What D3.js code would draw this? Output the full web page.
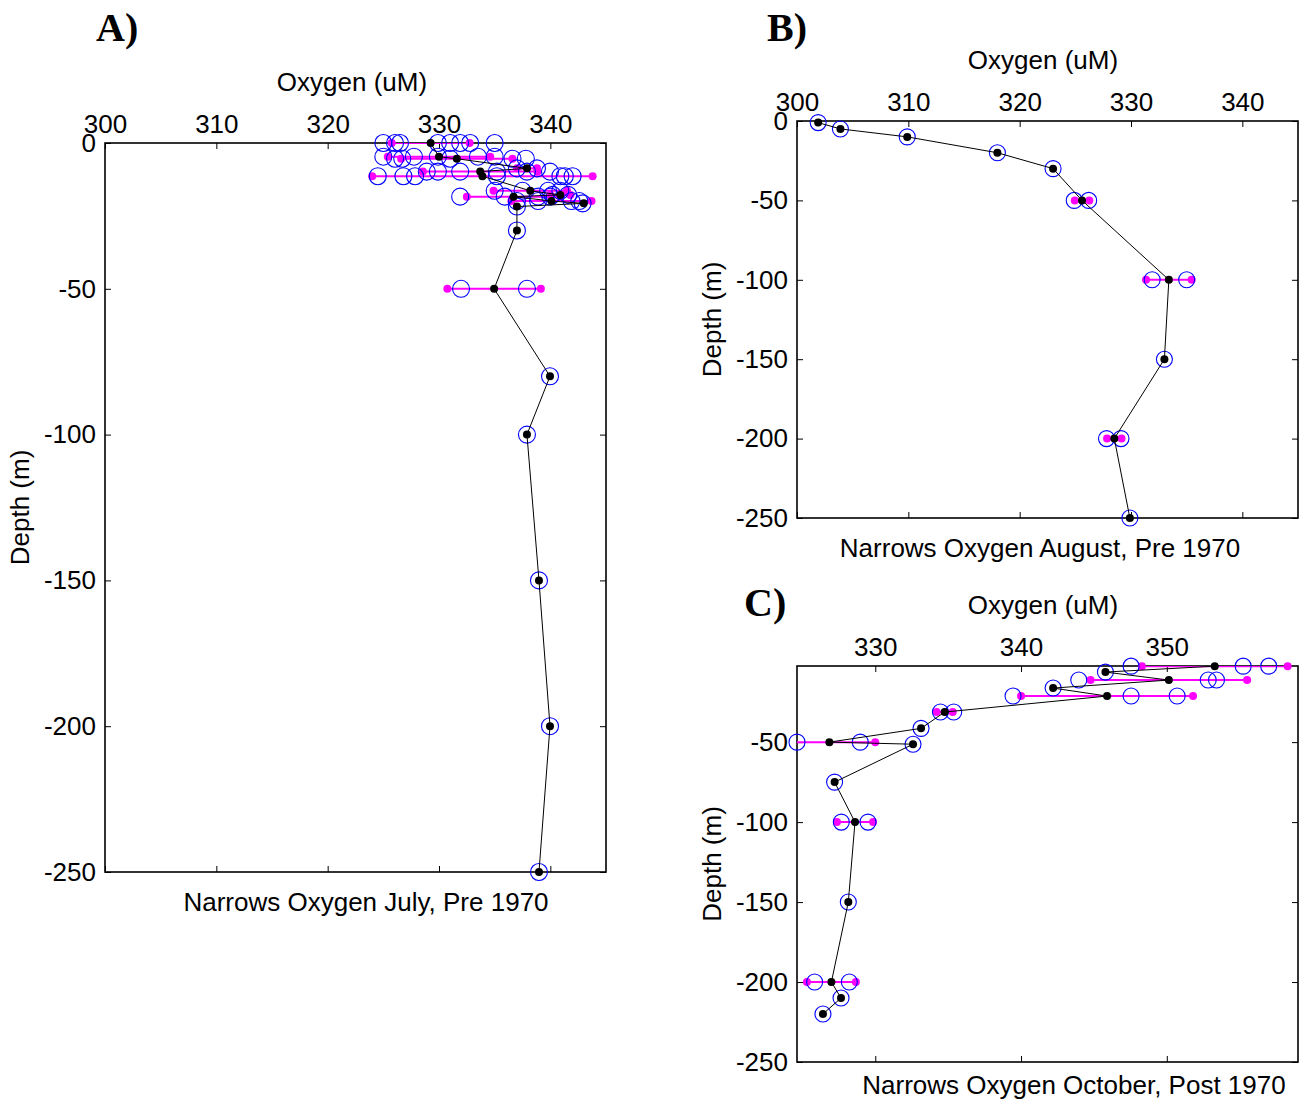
<!DOCTYPE html>
<html>
<head>
<meta charset="utf-8">
<script src="https://cdn.jsdelivr.net/npm/d3@7"></script>
<style>
  body { margin: 0; background: #fff; }
  svg { display: block; font-family: "Liberation Sans", Arial, sans-serif; }
</style>
</head>
<body>
<svg id="chart" width="1303" height="1103"></svg>
<script>
// ---------------- Data ----------------
// Panel A: July, Pre 1970
const depthsA = [0, -4.7, -5.4, -8.7, -9.8, -11.4, -16.4, -17.8, -18.4, -19.9, -20.7, -21.8, -30, -50, -80, -100, -150, -200, -250];
const meansA  = [329.25, 330.0, 331.6, 337.9, 333.7, 333.9, 338.2, 340.9, 336.7, 340.1, 343.0, 337.0, 337.0, 334.95, 339.97, 337.9, 338.98, 339.97, 338.98];
const stdsA   = [3.5, 4.6, 5.0, 0.9, 5.15, 9.9, 3.3, 0.9, 4.2, 3.6, 0, 0, 0, 4.2, 0, 0, 0, 0, 0];
const obsA = [
  [325.0, 326.05, 326.5, 329.9, 331.0, 331.9, 332.8, 335.0],
  [325.0, 327.75, 329.9, 333.5, 335.0],
  [326.05, 326.7, 331.0, 336.6, 337.8],
  [337.0, 338.8],
  [328.9, 329.9, 331.9, 335.2, 337.9, 339.97],
  [324.5, 326.8, 327.85, 335.2, 340.9, 341.3, 342.0],
  [335.0, 337.5, 339.8, 340.9],
  [340.2, 341.6],
  [331.9, 335.9, 338.9, 340.0],
  [337.0, 338.9, 341.9, 342.6],
  [342.9],
  [337.0],
  [337.0],
  [331.98, 337.9],
  [339.97],
  [337.9],
  [338.98],
  [339.97],
  [338.98]
];

// Panel B: August, Pre 1970
const depthsB = [-1, -5, -10, -20, -30, -50, -100, -150, -200, -250];
const meansB  = [301.9, 303.9, 309.9, 318.0, 323.0, 325.6, 333.4, 333.0, 328.5, 329.9];
const stdsB   = [0, 0, 0, 0, 0, 0.65, 2.05, 0, 0.65, 0];
const obsB = [[301.9], [303.9], [309.9], [318.0], [323.0], [324.9, 326.2], [331.9, 335.0], [333.0], [327.8, 329.1], [329.9]];

// Panel C: October, Post 1970
const depthsC = [-2.5, -6.2, -11.2, -16.2, -21.2, -31.2, -41.4, -50, -51.3, -75, -100, -150, -200, -210, -220];
const meansC  = [353.29, 345.79, 350.14, 342.2, 345.9, 334.76, 333.14, 326.85, 332.59, 327.21, 328.61, 328.15, 326.99, 327.65, 326.41];
const stdsC   = [5.0, 0, 5.37, 0, 5.9, 0.55, 0, 3.15, 0, 0, 1.24, 0, 1.68, 0, 0];
const obsC = [
  [347.55, 355.24, 356.99], [345.79], [343.96, 352.84, 353.41], [342.2],
  [339.45, 347.55, 350.71], [334.47, 335.38], [333.14], [324.63, 328.97],
  [332.59], [327.21], [327.67, 329.5], [328.15], [325.84, 328.22], [327.65], [326.41]
];

const xTicksAB = [300, 310, 320, 330, 340];
const xTicksC  = [330, 340, 350];
const yTicksAB = [0, -50, -100, -150, -200, -250];
const yTicksC  = [-50, -100, -150, -200, -250];

// ---------------- Drawing ----------------
const svg = d3.select("#chart");
const FS = 26;

function drawPanel(cfg) {
  const x = d3.scaleLinear().domain(cfg.xDomain).range([cfg.left, cfg.left + cfg.width]);
  const y = d3.scaleLinear().domain(cfg.yDomain).range([cfg.top + cfg.height, cfg.top]);
  const g = svg.append("g");
  const clipId = "clip" + cfg.id;
  svg.append("clipPath").attr("id", clipId).append("rect")
    .attr("x", cfg.left).attr("y", cfg.top).attr("width", cfg.width).attr("height", cfg.height);

  const fmt = d => String(d);
  const styleAxis = (sel, showText) => {
    sel.select(".domain").remove();
    sel.selectAll(".tick line").attr("stroke", "#000").attr("stroke-width", 1);
    sel.selectAll(".tick text").attr("fill", "#000").style("font-size", FS + "px")
      .style("font-family", '"Liberation Sans", Arial, sans-serif');
    if (!showText) sel.selectAll(".tick text").remove();
  };
  g.append("g").attr("transform", `translate(0,${cfg.top})`)
    .call(d3.axisTop(x).tickValues(cfg.xTicks).tickSizeInner(-6).tickSizeOuter(0).tickPadding(10).tickFormat(fmt))
    .call(s => styleAxis(s, true));
  g.append("g").attr("transform", `translate(0,${cfg.top + cfg.height})`)
    .call(d3.axisBottom(x).tickValues(cfg.xTicks).tickSizeInner(-6).tickSizeOuter(0).tickFormat(""))
    .call(s => styleAxis(s, false));
  g.append("g").attr("transform", `translate(${cfg.left},0)`)
    .call(d3.axisLeft(y).tickValues(cfg.yTicks).tickSizeInner(-6).tickSizeOuter(0).tickPadding(9).tickFormat(fmt))
    .call(s => styleAxis(s, true));
  g.append("g").attr("transform", `translate(${cfg.left + cfg.width},0)`)
    .call(d3.axisRight(y).tickValues(cfg.yTicks).tickSizeInner(-6).tickSizeOuter(0).tickFormat(""))
    .call(s => styleAxis(s, false));

  g.append("rect").attr("x", cfg.left).attr("y", cfg.top).attr("width", cfg.width).attr("height", cfg.height)
    .attr("fill", "none").attr("stroke", "#000").attr("stroke-width", 1.6);

  const n = cfg.depths.length;
  const idx = d3.range(n);
  const inX = v => v >= cfg.xDomain[0] - 1e-9 && v <= cfg.xDomain[1] + 1e-9;

  // std bars (magenta)
  const sdIdx = idx.filter(i => cfg.stds[i] > 0);
  g.append("g").attr("clip-path", `url(#${clipId})`).selectAll("line").data(sdIdx).join("line")
    .attr("x1", i => x(cfg.means[i] - cfg.stds[i])).attr("x2", i => x(cfg.means[i] + cfg.stds[i]))
    .attr("y1", i => y(cfg.depths[i])).attr("y2", i => y(cfg.depths[i]))
    .attr("stroke", "#ff00ff").attr("stroke-width", 2);
  const ends = [];
  sdIdx.forEach(i => {
    ends.push({v: cfg.means[i] - cfg.stds[i], d: cfg.depths[i]});
    ends.push({v: cfg.means[i] + cfg.stds[i], d: cfg.depths[i]});
  });
  g.append("g").selectAll("circle").data(ends.filter(e => inX(e.v))).join("circle")
    .attr("cx", e => x(e.v)).attr("cy", e => y(e.d)).attr("r", 4)
    .attr("fill", "#ff00ff");

  // observations (blue open circles)
  const pts = [];
  idx.forEach(i => cfg.obs[i].forEach(v => pts.push({v, d: cfg.depths[i]})));
  g.append("g").selectAll("circle").data(pts).join("circle")
    .attr("cx", p => x(p.v)).attr("cy", p => y(p.d)).attr("r", cfg.r)
    .attr("fill", "none").attr("stroke", "#0000ff").attr("stroke-width", 1.1);

  // mean profile
  const line = d3.line().x(i => x(cfg.means[i])).y(i => y(cfg.depths[i]));
  g.append("path").attr("clip-path", `url(#${clipId})`).datum(idx).attr("d", line)
    .attr("fill", "none").attr("stroke", "#000").attr("stroke-width", 1);
  g.append("g").selectAll("circle").data(idx).join("circle")
    .attr("cx", i => x(cfg.means[i])).attr("cy", i => y(cfg.depths[i])).attr("r", 4)
    .attr("fill", "#000");

  // labels
  g.append("text").attr("x", cfg.xlabelX).attr("y", cfg.top - 52).attr("text-anchor", "middle")
    .style("font-size", FS + "px").text("Oxygen (uM)");
  g.append("text").attr("transform", `translate(${cfg.left - 76},${cfg.top + cfg.height / 2}) rotate(-90)`)
    .attr("text-anchor", "middle").style("font-size", FS + "px").text("Depth (m)");
  g.append("text").attr("x", cfg.titleX).attr("y", cfg.titleY).attr("text-anchor", "middle")
    .style("font-size", FS + "px").text(cfg.title);
  g.append("text").attr("x", cfg.labelX).attr("y", cfg.labelY)
    .style("font-family", '"Liberation Serif", "Times New Roman", serif')
    .style("font-weight", "bold").style("font-size", "40px").text(cfg.label);
}

drawPanel({
  id: "A", left: 105, top: 143, width: 501, height: 729,
  xDomain: [300, 345], yDomain: [-250, 0], xTicks: xTicksAB, yTicks: yTicksAB,
  depths: depthsA, means: meansA, stds: stdsA, obs: obsA, r: 8.5,
  xlabelX: 352, title: "Narrows Oxygen July, Pre 1970", titleX: 366, titleY: 911,
  label: "A)", labelX: 96, labelY: 41
});
drawPanel({
  id: "B", left: 797, top: 121, width: 501, height: 397,
  xDomain: [300, 345], yDomain: [-250, 0], xTicks: xTicksAB, yTicks: yTicksAB,
  depths: depthsB, means: meansB, stds: stdsB, obs: obsB, r: 8,
  xlabelX: 1043, title: "Narrows Oxygen August, Pre 1970", titleX: 1040, titleY: 557,
  label: "B)", labelX: 767, labelY: 41
});
drawPanel({
  id: "C", left: 797, top: 666, width: 501, height: 396,
  xDomain: [324.63, 359.0], yDomain: [-250, -2.4], xTicks: xTicksC, yTicks: yTicksC,
  depths: depthsC, means: meansC, stds: stdsC, obs: obsC, r: 8,
  xlabelX: 1043, title: "Narrows Oxygen October, Post 1970", titleX: 1074, titleY: 1094,
  label: "C)", labelX: 744, labelY: 616
});
</script>
</body>
</html>
